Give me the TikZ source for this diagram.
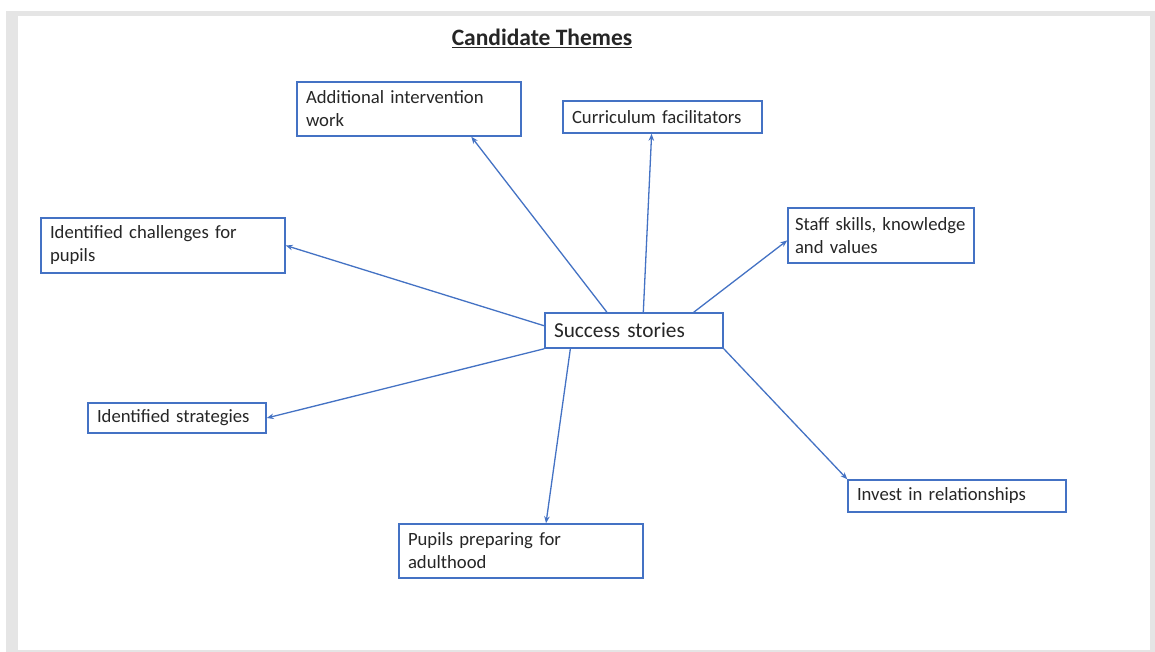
\documentclass[tikz,border=0pt]{standalone}
\usepackage{fontspec}
\setmainfont{Carlito}
\usetikzlibrary{arrows.meta}
\definecolor{themeblue}{RGB}{68,114,196}
\definecolor{pagegray}{RGB}{229,229,229}

\begin{document}
\begin{tikzpicture}[
    x=1pt, y=-1pt,
    >={Stealth[length=7pt,width=5.5pt]},
    theme/.style={rectangle, draw=themeblue, line width=1.5pt, align=left,
                  inner xsep=9pt, inner ysep=3pt, text=black!85,
                  font=\fontsize{18.7}{23}\selectfont},
    link/.style={->, draw=themeblue, line width=1.3pt}
]
% page and frame
\fill[white] (0,0) rectangle (1155,652);
\fill[pagegray] (6,11) rectangle (1155,652);
\fill[white] (18,16) rectangle (1150,650);
\useasboundingbox (0,0) rectangle (1155,652);

\node[font=\fontsize{23.5}{28}\selectfont\bfseries, text=black!85, anchor=base]
    (title) at (542,46) {\underline{Candidate Themes}};

\node[theme, minimum width=178pt, minimum height=35pt, text width=160pt,
      font=\fontsize{21.3}{26}\selectfont] (succ) at (634,330.5) {Success stories};
\node[theme, minimum height=54pt, text width=206pt] (addl) at (409,109) {Additional intervention\\work};
\node[theme, minimum height=32pt, text width=181pt] (curr) at (662.5,117) {Curriculum facilitators};
\node[theme, minimum height=55pt, text width=172pt, inner xsep=7pt] (staff) at (881,235.5) {Staff skills, knowledge\\and values};
\node[theme, minimum height=55pt, text width=226pt] (chall) at (163,245.5) {Identified challenges for\\pupils};
\node[theme, minimum height=30pt, text width=160pt] (strat) at (177,418) {Identified strategies};
\node[theme, minimum height=32pt, text width=200pt] (invest) at (957,496) {Invest in relationships};
\node[theme, minimum height=54pt, text width=226pt] (pupils) at (521,551) {Pupils preparing for\\adulthood};

% links from the centre
\draw[link] (succ.146) -- (addl.336);
\draw[link] (succ.63) -- (curr.237);
\draw[link] (succ.17) -- (staff.183);
\draw[link] (succ.177) -- (chall.east);
\draw[link] (succ.south west) -- (strat.east);
\draw[link] (succ.196) -- (pupils.48);
\draw[link] (succ.south east) -- (invest.north west);
\end{tikzpicture}
\end{document}
